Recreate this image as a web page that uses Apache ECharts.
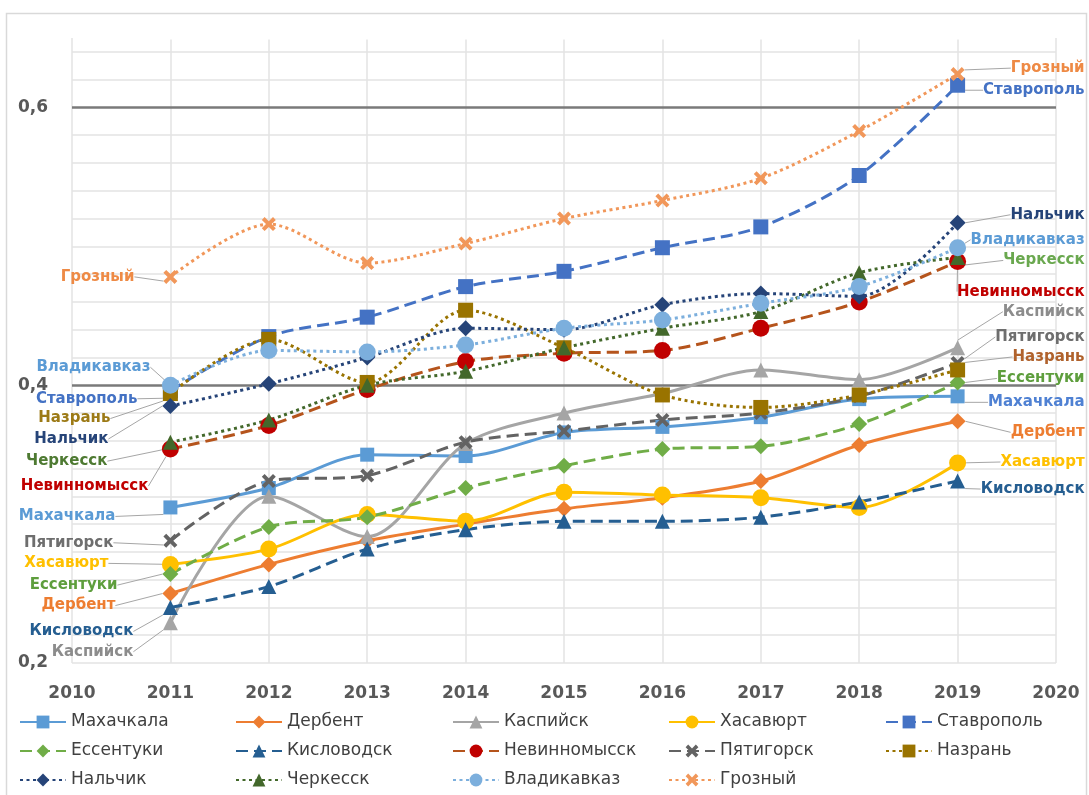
<!DOCTYPE html>
<html>
<head>
<meta charset="utf-8">
<script src="https://cdn.jsdelivr.net/npm/echarts@6/dist/echarts.min.js"></script>
<style>
  html, body { margin: 0; padding: 0; background: #ffffff; }
  #chart { width: 1089px; height: 795px; }
</style>
</head>
<body>
<div id="chart"></div>
<script>
// Years on the horizontal axis (data points sit on 2011–2019)
const years = [2011, 2012, 2013, 2014, 2015, 2016, 2017, 2018, 2019];
const axisMinYear = 2010;
const axisMaxYear = 2020;

// Index values by city
const makhachkala  = [0.312, 0.326, 0.350, 0.349, 0.366, 0.370, 0.377, 0.390, 0.392];
const derbent      = [0.250, 0.271, 0.288, 0.300, 0.311, 0.319, 0.331, 0.357, 0.374];
const kaspiysk     = [0.229, 0.320, 0.291, 0.358, 0.380, 0.394, 0.411, 0.404, 0.427];
const khasavyurt   = [0.271, 0.282, 0.307, 0.302, 0.323, 0.321, 0.319, 0.312, 0.344];
const stavropol    = [0.396, 0.435, 0.449, 0.471, 0.482, 0.499, 0.514, 0.551, 0.616];
const essentuki    = [0.264, 0.298, 0.305, 0.326, 0.342, 0.354, 0.356, 0.372, 0.402];
const kislovodsk   = [0.240, 0.255, 0.282, 0.296, 0.302, 0.302, 0.305, 0.316, 0.331];
const nevinnomyssk = [0.354, 0.371, 0.397, 0.417, 0.423, 0.425, 0.441, 0.460, 0.489];
const pyatigorsk   = [0.288, 0.331, 0.335, 0.359, 0.367, 0.375, 0.380, 0.392, 0.416];
const nazran       = [0.394, 0.433, 0.402, 0.454, 0.427, 0.393, 0.384, 0.393, 0.411];
const nalchik      = [0.385, 0.401, 0.420, 0.441, 0.440, 0.458, 0.466, 0.464, 0.517];
const cherkessk    = [0.359, 0.375, 0.400, 0.410, 0.427, 0.441, 0.453, 0.481, 0.492];
const vladikavkaz  = [0.400, 0.425, 0.424, 0.429, 0.441, 0.447, 0.459, 0.471, 0.499];
const grozny       = [0.478, 0.516, 0.488, 0.502, 0.520, 0.533, 0.549, 0.583, 0.624];

// Value-axis range and the labelled levels
const yMin = 0.2;
const yMax = 0.65;
const yStep = 0.02;
const yLabelled = [0.2, 0.4, 0.6];
const yMajorLines = [0.4, 0.6];

const CROSS = 'path://M2,0L5,3L8,0L10,2L7,5L10,8L8,10L5,7L2,10L0,8L3,5L0,2Z';
const DASH = [12, 6];
const DOT = [3, 3.5];

// Styling of each city line; label offsets are relative to the first / last point
const cities = [
  { name: 'Махачкала', values: makhachkala, color: '#5B9BD5', dash: 'solid', symbol: 'rect', size: 14,
    leftColor: '#5B9BD5', rightColor: '#4F81D3', left: [-55, 9], right: [127, 6] },
  { name: 'Дербент', values: derbent, color: '#ED7D31', dash: 'solid', symbol: 'diamond', size: 16,
    leftColor: '#ED7D31', rightColor: '#ED7D31', left: [-55, 12], right: [127, 11] },
  { name: 'Каспийск', values: kaspiysk, color: '#A5A5A5', dash: 'solid', symbol: 'triangle', size: 15,
    leftColor: '#8C8C8C', rightColor: '#8C8C8C', left: [-37, 29], right: [127, -36] },
  { name: 'Хасавюрт', values: khasavyurt, color: '#FFC000', dash: 'solid', symbol: 'circle', size: 17,
    leftColor: '#FFC000', rightColor: '#FFC000', left: [-62, -1], right: [127, -1] },
  { name: 'Ставрополь', values: stavropol, color: '#4472C4', dash: DASH, symbol: 'rect', size: 15,
    leftColor: '#4472C4', rightColor: '#4472C4', left: [-33, 8], right: [127, 5] },
  { name: 'Ессентуки', values: essentuki, color: '#70AD47', dash: DASH, symbol: 'diamond', size: 16,
    leftColor: '#5E9E3D', rightColor: '#5E9E3D', left: [-53, 11], right: [127, -4] },
  { name: 'Кисловодск', values: kislovodsk, color: '#255E91', dash: DASH, symbol: 'triangle', size: 15,
    leftColor: '#255E91', rightColor: '#255E91', left: [-37, 24], right: [127, 8] },
  { name: 'Невинномысск', values: nevinnomyssk, color: '#C00000', lineColor: '#B5541C', dash: DASH, symbol: 'circle', size: 17,
    leftColor: '#C00000', rightColor: '#C00000', left: [-22, 37], right: [127, 30] },
  { name: 'Пятигорск', values: pyatigorsk, color: '#636363', dash: DASH, symbol: CROSS, size: 14,
    leftColor: '#6E6E6E', rightColor: '#6E6E6E', left: [-57, 2], right: [127, -26] },
  { name: 'Назрань', values: nazran, color: '#997300', dash: DOT, symbol: 'rect', size: 15,
    leftColor: '#9C7A16', rightColor: '#B0622C', left: [-60, 25], right: [127, -13] },
  { name: 'Нальчик', values: nalchik, color: '#264478', dash: DOT, symbol: 'diamond', size: 16,
    leftColor: '#264478', rightColor: '#264478', left: [-62, 33], right: [127, -8] },
  { name: 'Черкесск', values: cherkessk, color: '#43682B', dash: DOT, symbol: 'triangle', size: 15,
    leftColor: '#4E7A32', rightColor: '#6AA84F', left: [-63, 19], right: [127, 3] },
  { name: 'Владикавказ', values: vladikavkaz, color: '#7CAFDD', dash: DOT, symbol: 'circle', size: 17,
    leftColor: '#5B9BD5', rightColor: '#5B9BD5', left: [-20, -18], right: [127, -8] },
  { name: 'Грозный', values: grozny, color: '#F1975A', dash: DOT, symbol: CROSS, size: 14,
    leftColor: '#EE8A45', rightColor: '#EE8A45', left: [-36, 0], right: [127, -6] }
];

// Legend columns (each column stacks three entries)
const legendColumns = [
  ['Махачкала', 'Ессентуки', 'Нальчик'],
  ['Дербент', 'Кисловодск', 'Черкесск'],
  ['Каспийск', 'Невинномысск', 'Владикавказ'],
  ['Хасавюрт', 'Пятигорск', 'Грозный'],
  ['Ставрополь', 'Назрань']
];
const legendLefts = [14, 230, 447, 663, 880];

const FONT = 'DejaVu Sans';
const lastIndex = years.length - 1;

// Plot box in pixels
const GRID = { left: 72, right: 33, top: 38, bottom: 132 };
const CHART_W = 1089;

// Horizontal rules: light on every 0.02 step up to 0.64, darker at 0.4 and 0.6
const GRID_LIGHT = '#E3E3E3';
const ruleCount = Math.floor((yMax - yMin) / yStep + 1e-9) + 1;
const rules = [];
for (let i = 0; i < ruleCount; i++) {
  const v = Math.round((yMin + i * yStep) * 100) / 100;
  const major = yMajorLines.some(function (m) { return Math.abs(m - v) < 1e-6; });
  rules.push({
    yAxis: v,
    lineStyle: major
      ? { color: '#7A7A7A', width: 2.5, type: 'solid' }
      : { color: GRID_LIGHT, width: 1.5, type: 'solid' }
  });
}
// draw dark rules after the light ones so they sit on top
rules.sort(function (a, b) { return (a.lineStyle.width - b.lineStyle.width); });

const series = cities.map(function (c, si) {
  const data = c.values.map(function (v, i) {
    const item = { value: [years[i], v] };
    if (i === 0 || i === lastIndex) {
      item.label = { show: true, color: i === 0 ? c.leftColor : c.rightColor };
    }
    return item;
  });
  const s = {
    name: c.name,
    type: 'line',
    data: data,
    smooth: 0.3,
    symbol: c.symbol,
    symbolSize: c.size,
    showAllSymbol: true,
    itemStyle: { color: c.color, borderWidth: 0 },
    lineStyle: { color: c.lineColor || c.color, width: 3, type: c.dash, cap: 'butt' },
    label: {
      show: false,
      formatter: '{a}',
      fontFamily: FONT,
      fontWeight: 'bold',
      fontSize: 15
    },
    labelLine: {
      show: true,
      smooth: false,
      lineStyle: { color: '#A6A6A6', width: 1 }
    },
    labelLayout: function (p) {
      const off = p.dataIndex === 0 ? c.left : c.right;
      const cx = p.rect.x + p.rect.width / 2;
      const cy = p.rect.y + p.rect.height / 2;
      return { x: cx + off[0], y: cy + off[1], align: 'right', verticalAlign: 'middle' };
    },
    emphasis: { disabled: true },
    animation: false,
    z: 3
  };
  if (si === 0) {
    s.markLine = {
      silent: true,
      symbol: 'none',
      label: { show: false },
      data: rules,
      z: 1
    };
  }
  return s;
});

const legends = legendColumns.map(function (col, k) {
  return {
    orient: 'vertical',
    left: legendLefts[k],
    top: 707,
    itemWidth: 46,
    itemHeight: 16,
    itemGap: 9,
    data: col,
    textStyle: { fontFamily: FONT, fontSize: 17, color: '#404040', lineHeight: 20 },
    selectedMode: false
  };
});

const chart = echarts.init(document.getElementById('chart'), null, { renderer: 'canvas' });
chart.setOption({
  backgroundColor: '#ffffff',
  animation: false,
  graphic: [
    {
      // outer frame
      type: 'rect',
      shape: { x: 6.5, y: 13.5, width: 1080, height: 800 },
      style: { fill: 'none', stroke: '#D9D9D9', lineWidth: 1.5 },
      silent: true,
      z: -1
    },
    {
      // keep the top edge of the plot open (no closing rule at 0.65)
      type: 'rect',
      shape: { x: GRID.left + 1, y: GRID.top - 1.5, width: CHART_W - GRID.left - GRID.right - 2, height: 3 },
      style: { fill: '#ffffff' },
      silent: true,
      z: 1
    }
  ],
  grid: {
    show: false, borderWidth: 0,
    left: GRID.left, right: GRID.right, top: GRID.top, bottom: GRID.bottom,
    containLabel: false, outerBoundsMode: 'none'
  },
  legend: legends,
  xAxis: {
    type: 'value',
    position: 'bottom',
    min: axisMinYear,
    max: axisMaxYear,
    interval: 1,
    axisLine: { show: false },
    axisTick: { show: false },
    axisLabel: {
      margin: 22,
      fontFamily: FONT, fontWeight: 'bold', fontSize: 17, color: '#595959',
      formatter: function (v) { return String(v); }
    },
    splitLine: { show: true, lineStyle: { color: GRID_LIGHT, width: 1.5 } }
  },
  yAxis: {
    type: 'value',
    min: yMin,
    max: yMax,
    interval: yStep,
    axisLine: { show: false },
    axisTick: { show: false },
    axisLabel: {
      margin: 24,
      fontFamily: FONT, fontWeight: 'bold', fontSize: 17, color: '#595959',
      formatter: function (v) {
        const hit = yLabelled.some(function (t) { return Math.abs(t - v) < 1e-6; });
        return hit ? v.toFixed(1).replace('.', ',') : '';
      }
    },
    splitLine: { show: false },
    splitArea: { show: false }
  },
  series: series
});
</script>
</body>
</html>
